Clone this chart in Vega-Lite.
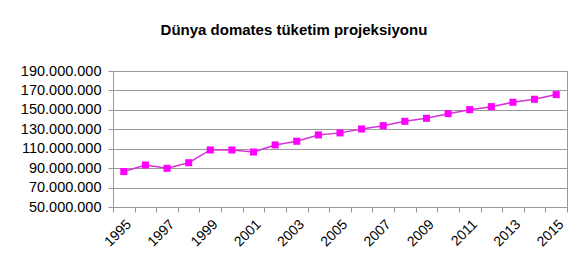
{
  "$schema": "https://vega.github.io/schema/vega-lite/v6.json",
  "autosize": "none",
  "width": 454,
  "height": 136,
  "padding": {"left": 113, "top": 71, "right": 12, "bottom": 63},
  "background": "white",
  "title": {
    "text": "Dünya domates tüketim projeksiyonu",
    "font": "Liberation Sans",
    "fontSize": 15,
    "fontWeight": "bold",
    "color": "#000000",
    "frame": "bounds",
    "anchor": "middle",
    "offset": 25
  },
  "data": {
    "values": [
      {"yil": 1995, "tuketim": 86500000},
      {"yil": 1996, "tuketim": 93200000},
      {"yil": 1997, "tuketim": 89800000},
      {"yil": 1998, "tuketim": 95600000},
      {"yil": 1999, "tuketim": 108700000},
      {"yil": 2000, "tuketim": 108700000},
      {"yil": 2001, "tuketim": 106600000},
      {"yil": 2002, "tuketim": 113900000},
      {"yil": 2003, "tuketim": 117700000},
      {"yil": 2004, "tuketim": 124200000},
      {"yil": 2005, "tuketim": 126300000},
      {"yil": 2006, "tuketim": 130300000},
      {"yil": 2007, "tuketim": 133700000},
      {"yil": 2008, "tuketim": 138200000},
      {"yil": 2009, "tuketim": 141300000},
      {"yil": 2010, "tuketim": 146100000},
      {"yil": 2011, "tuketim": 150200000},
      {"yil": 2012, "tuketim": 153300000},
      {"yil": 2013, "tuketim": 157800000},
      {"yil": 2014, "tuketim": 160900000},
      {"yil": 2015, "tuketim": 165700000}
    ]
  },
  "encoding": {
    "x": {
      "field": "yil",
      "type": "ordinal",
      "sort": "ascending",
      "scale": {"type": "band", "paddingInner": 0, "paddingOuter": 0},
      "axis": {
        "title": null,
        "tickBand": "extent",
        "labelAngle": -45,
        "labelExpr": "datum.value % 2 == 1 ? datum.label : ''",
        "labelFont": "Liberation Sans",
        "labelFontSize": 14,
        "labelColor": "#000000",
        "labelPadding": 5,
        "tickSize": 5,
        "tickColor": "#999999",
        "domainColor": "#999999",
        "grid": false
      }
    },
    "y": {
      "field": "tuketim",
      "type": "quantitative",
      "scale": {"domain": [50000000, 190000000], "nice": false, "zero": false},
      "axis": {
        "title": null,
        "values": [50000000, 70000000, 90000000, 110000000, 130000000, 150000000, 170000000, 190000000],
        "labelExpr": "replace(format(datum.value, ',d'), /,/g, '.')",
        "labelFont": "Liberation Sans",
        "labelFontSize": 14.5,
        "labelColor": "#000000",
        "labelPadding": 7,
        "tickSize": 5,
        "tickColor": "#999999",
        "domainColor": "#999999",
        "grid": true,
        "gridColor": "#999999",
        "gridWidth": 1
      }
    }
  },
  "layer": [
    {"mark": {"type": "line", "color": "#d633d6", "strokeWidth": 1.5}},
    {"mark": {"type": "square", "filled": true, "color": "#ff00ff", "size": 50, "opacity": 1}}
  ],
  "config": {
    "view": {"stroke": "#999999", "strokeWidth": 1}
  }
}
